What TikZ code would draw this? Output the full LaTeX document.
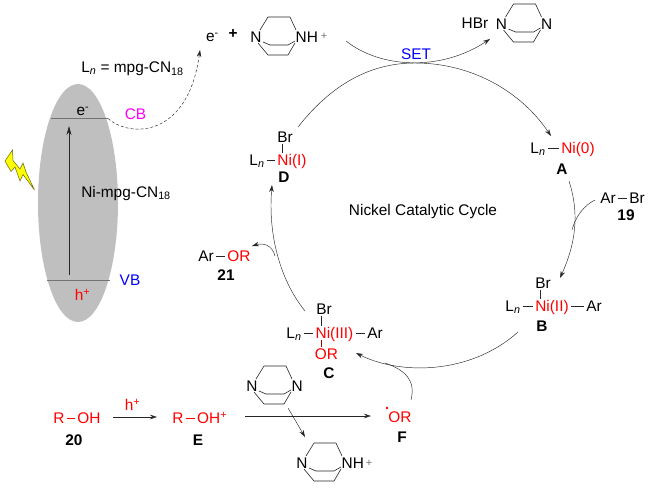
\documentclass[tikz,border=0pt]{standalone}
\usepackage{xcolor}
\usepackage{fontspec}
\setmainfont{Liberation Sans}
\usetikzlibrary{arrows.meta,calc}
\definecolor{nired}{HTML}{FF0000}
\definecolor{setblue}{HTML}{0000FF}
\definecolor{cbpink}{HTML}{FF00FF}
\definecolor{bandgray}{HTML}{BFBFBF}
\definecolor{boltyellow}{HTML}{FFFF00}
\newcommand{\Ln}{L\textsubscript{\textit{n}}}
\tikzset{
  pics/dabco/.style={code={
    \node[atom] at (0,0) {N};
    \node[atom, anchor=west, xshift=-2pt] at (39.5,0) {#1};
    \draw[bond] (4,-7) -- (12,-20) -- (34,-20) -- (40,-7);
    \draw[bond] (2,6) -- (12,18) -- (32,18) -- (39,6);
    \draw[bond] (7,5) -- (14,8) -- (32,8) -- (39,4);
  }},
}
\begin{document}
\begin{tikzpicture}[
  x=1pt, y=-1pt,
  font=\fontsize{15.4}{18}\selectfont,
  atom/.style={text height=11pt, text depth=0.5pt, inner xsep=2pt, inner ysep=1pt, text=black},
  redatom/.style={atom, text=nired},
  tag/.style={atom, font=\fontsize{15.4}{18}\selectfont\bfseries},
  bond/.style={line width=0.6pt, draw=black!85},
  redbond/.style={bond, draw=nired!60!black},
  arr/.style={-{Stealth[length=7pt, width=4.5pt]}, line width=0.45pt, draw=black!85},
  tail/.style={line width=0.45pt, draw=black!85},
  smallplus/.style={font=\fontsize{11}{13}\selectfont, text=black!55},
]
\useasboundingbox (0,0) rectangle (650,487);
% semiconductor particle
\fill[bandgray] (78,203) ellipse[x radius=40, y radius=119];
\coordinate (cbL) at (51,118.5);
\coordinate (cbR) at (108,118.5);
\coordinate (vbL) at (47,280);
\coordinate (vbR) at (110,280);
\coordinate (vbUp) at (69,275);
\coordinate (cbUp) at (69,126);
\draw[line width=0.8pt, draw=black!55] (cbL) -- (cbR);
\draw[line width=0.8pt, draw=black!55] (vbL) -- (vbR);
\draw[arr, -{Stealth[length=9pt, width=5pt]}, line width=0.6pt] (vbUp) -- (cbUp);
\node[atom] (cbElec) at (83,110) {e\textsuperscript{-}};
\node[redatom] (vbHole) at (82.5,295) {h\textsuperscript{+}};
\node[atom, text=cbpink] (cbLabel) at (135.5,114.5) {CB};
\node[atom, text=setblue] (vbLabel) at (130,280.5) {VB};
\node[atom] (particle) at (126,192) {Ni-mpg-CN\textsubscript{18}};
\node[atom] (ligand) at (132.5,67.5) {\Ln{} = mpg-CN\textsubscript{18}};
\filldraw[fill=boltyellow, draw=black!60!boltyellow, line width=0.5pt]
  (12.5,150) -- (5,161) -- (11,171.5) -- (15,167) -- (20,181) -- (23,174.5) -- (34.5,190)
  -- (26,172) -- (23,163) -- (20,169) -- (13,160.5) -- cycle;
% top line
\node[atom] (elec) at (212.5,36) {e\textsuperscript{-}};
\node[atom, font=\fontsize{15.4}{18}\selectfont\bfseries] (plus) at (233,33) {+};
\pic at (256,37) {dabco=NH};
\node[smallplus] (nhplus) at (324,36) {+};
\node[atom] (hbr) at (475,23) {HBr};
\pic at (501.5,24) {dabco=N};
\coordinate (cbEnd) at (108,118.5);
\coordinate (elecEnd) at (200,50);
\draw[arr, densely dashed] (cbEnd) .. controls (130,138) and (188,138) .. (elecEnd);
\node[atom, text=setblue] (setLabel) at (416,54.5) {SET};
\coordinate (setStart) at (346,41);
\coordinate (setEnd) at (490,39);
\draw[arr] (setStart) .. controls (380,68) and (440,72) .. (setEnd);
% nickel species
\node[atom] (aLn) at (538,148) {\Ln};
\node[redatom] (aNi) at (578,148) {Ni(0)};
\node[tag] (aTag) at (562,169) {A};
\draw[bond] (aLn) -- (aNi);
\node[atom] (arAr) at (608,198) {Ar};
\node[atom] (arBr) at (637,198) {Br};
\node[tag] (arTag) at (626,215) {19};
\draw[bond] (arAr) -- (arBr);
\node[atom] (bBr) at (543,283.5) {Br};
\node[atom] (bLn) at (513,306) {\Ln};
\node[redatom] (bNi) at (552,306) {Ni(II)};
\node[atom] (bAr) at (594,306) {Ar};
\node[tag] (bTag) at (542,326) {B};
\draw[bond] (bLn) -- (bNi);
\draw[bond] (bNi) -- (bAr);
\draw[bond] ([xshift=7pt]bBr.south west) -- ([xshift=7pt]bBr.south west |- bNi.north);
\node[atom] (cBr) at (324,309.5) {Br};
\node[atom] (cLn) at (294,333) {\Ln};
\node[redatom] (cNi) at (334.5,333) {Ni(III)};
\node[atom] (cAr) at (375,333) {Ar};
\node[redatom] (cOR) at (326.5,354) {OR};
\node[tag] (cTag) at (329,373) {C};
\draw[bond] (cLn) -- (cNi);
\draw[bond] (cNi) -- (cAr);
\draw[bond] ([xshift=7pt]cBr.south west) -- ([xshift=7pt]cBr.south west |- cNi.north);
\draw[redbond] ([xshift=7pt]cBr.south west |- cNi.south) -- ([xshift=7pt]cBr.south west |- cOR.north);
\node[atom] (dBr) at (285,137) {Br};
\node[atom] (dLn) at (257,160) {\Ln};
\node[redatom] (dNi) at (292,160) {Ni(I)};
\node[tag] (dTag) at (284,177) {D};
\draw[bond] (dLn) -- (dNi);
\draw[bond] ([xshift=7pt]dBr.south west) -- ([xshift=7pt]dBr.south west |- dNi.north);
\node[atom] (arO) at (206,256) {Ar};
\node[redatom] (arOR) at (239,256) {OR};
\node[tag] (orTag) at (226,275) {21};
\draw[bond] (arO) -- (arOR);
\node[atom] (cycle) at (423,210.5) {Nickel Catalytic Cycle};
% catalytic cycle
\coordinate (dOut) at (298,127);
\coordinate (topMid) at (415,63);
\coordinate (aIn) at (551,136);
\coordinate (aOut) at (569,181);
\coordinate (bIn) at (560,278);
\coordinate (arJoin) at (572,230);
\coordinate (arOut) at (595,200);
\coordinate (bOut) at (518,332);
\coordinate (cIn) at (356,353);
\coordinate (fOut) at (411,400);
\coordinate (fJoin) at (385,363);
\coordinate (cOut) at (305,311);
\coordinate (dIn) at (272,185);
\coordinate (orJoin) at (275,256);
\coordinate (orEnd) at (252,246);
\draw[arr] (dOut) .. controls (335,80) and (375,63) .. (topMid) .. controls (470,63) and (520,90) .. (aIn);
\draw[arr] (aOut) .. controls (580,215) and (575,245) .. (bIn);
\draw[tail] (arOut) .. controls (585,205) and (576,215) .. (arJoin);
\draw[arr] (bOut) .. controls (470,375) and (400,375) .. (cIn);
\draw[tail] (fOut) .. controls (416,380) and (405,370) .. (fJoin);
\draw[arr] (cOut) .. controls (280,280) and (268,235) .. (dIn);
\draw[arr] (orJoin) .. controls (272,244) and (262,243) .. (orEnd);
% alcohol oxidation
\node[redatom] (rR) at (59,418) {R};
\node[redatom] (rOH) at (89,418) {OH};
\node[tag] (rTag) at (74,440) {20};
\draw[bond, draw=nired] (rR) -- (rOH);
\node[redatom] (eR) at (178,418) {R};
\node[redatom, anchor=west] (eOH) at (195,418) {OH\textsuperscript{+}};
\node[tag] (eTag) at (198,440) {E};
\draw[bond, draw=nired] (eR) -- (eOH.west |- eR);
\node[redatom] (holeArr) at (132.5,405) {h\textsuperscript{+}};
\coordinate (rEnd) at (113,417);
\coordinate (eStart) at (157,417);
\draw[arr] (rEnd) -- (eStart);
\pic at (252,386) {dabco=N};
\pic at (302,463) {dabco=NH};
\node[smallplus] (nhplusB) at (369,463) {+};
\coordinate (eEnd) at (245,416);
\node[redatom] (fOR) at (400,417) {OR};
\node[tag] (fTag) at (402,437) {F};
\node[circle, fill=nired, inner sep=0.9pt] (fDot) at (387,408) {};
\coordinate (fIn) at (371,416);
\draw[arr] (eEnd) -- (fIn);
\coordinate (baseStart) at (288,408);
\coordinate (baseEnd) at (305,437);
\draw[arr] (baseStart) -- (baseEnd);
\end{tikzpicture}
\end{document}
